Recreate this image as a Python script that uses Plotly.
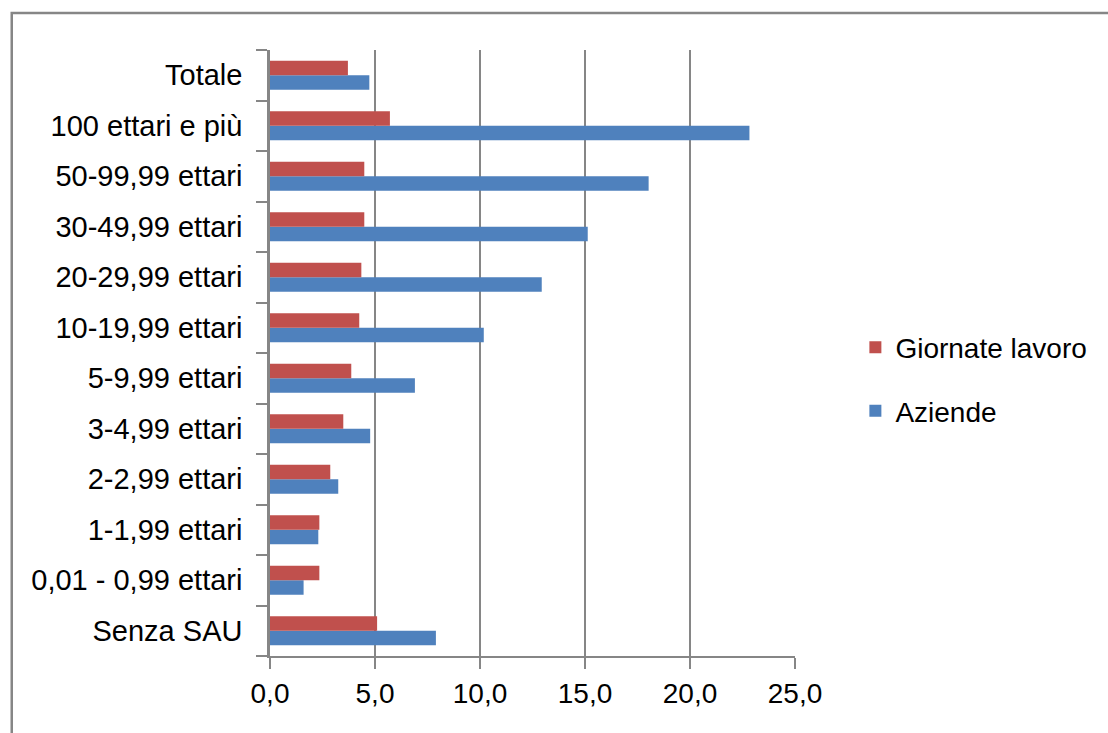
import plotly.graph_objects as go

# Size classes (bottom to top on the chart)
categorie = [
    "Senza SAU",
    "0,01 - 0,99 ettari",
    "1-1,99 ettari",
    "2-2,99 ettari",
    "3-4,99 ettari",
    "5-9,99 ettari",
    "10-19,99 ettari",
    "20-29,99 ettari",
    "30-49,99 ettari",
    "50-99,99 ettari",
    "100 ettari e più",
    "Totale",
]

aziende = [7.9, 1.6, 2.3, 3.25, 4.77, 6.9, 10.18, 12.94, 15.13, 18.03, 22.83, 4.73]
giornate_lavoro = [5.1, 2.35, 2.35, 2.87, 3.49, 3.87, 4.25, 4.35, 4.49, 4.49, 5.71, 3.71]

x_ticks = [0, 5, 10, 15, 20, 25]
x_tick_labels = ["0,0", "5,0", "10,0", "15,0", "20,0", "25,0"]

BLUE = "#4F81BD"
RED = "#C0504D"
GRID = "#868686"
FONT = "Liberation Sans, Arial, sans-serif"

fig = go.Figure()
fig.add_trace(go.Bar(
    y=categorie, x=aziende, name="Aziende", orientation="h",
    marker=dict(color=BLUE, line=dict(width=0)),
    legendgroup="b", legendrank=2,
))
fig.add_trace(go.Bar(
    y=categorie, x=giornate_lavoro, name="Giornate lavoro", orientation="h",
    marker=dict(color=RED, line=dict(width=0)),
    legendgroup="a", legendrank=1,
))

W, H = 1108, 733
L, R, T, B = 269.5, W - 795, 50, H - 656
pw, ph = W - L - R, H - T - B

# Outer chart frame, partly running off the page edges
fig.add_shape(
    type="rect", xref="paper", yref="paper",
    x0=(11 - L) / pw, x1=(W + 10 - L) / pw,
    y0=-(H + 10 - (H - B)) / ph, y1=1 + (T - 13) / ph,
    line=dict(color=GRID, width=2.5), fillcolor="rgba(0,0,0,0)", layer="below",
)

fig.update_layout(
    width=W, height=H,
    margin=dict(l=L, r=R, t=T, b=B, pad=0),
    paper_bgcolor="white", plot_bgcolor="white",
    barmode="group", bargap=0.43, bargroupgap=0,
    font=dict(family=FONT, size=29, color="black"),
    legend=dict(
        x=1.115, y=0.457, xanchor="left", yanchor="middle",
        traceorder="grouped", tracegroupgap=24,
        font=dict(size=28), bgcolor="rgba(0,0,0,0)",
    ),
    xaxis=dict(
        range=[0, 25], tickvals=x_ticks, ticktext=x_tick_labels,
        showgrid=True, gridcolor=GRID, gridwidth=1.5,
        showline=True, linecolor=GRID, linewidth=2,
        ticks="outside", ticklen=11, tickcolor=GRID, tickwidth=2,
        zeroline=False, tickfont=dict(size=28),
    ),
    yaxis=dict(
        categoryorder="array", categoryarray=categorie,
        showline=True, linecolor=GRID, linewidth=2.5,
        ticks="outside", ticklen=11, tickcolor=GRID, tickwidth=2,
        tickson="boundaries", showgrid=False, zeroline=False,
        ticklabelstandoff=19, tickfont=dict(size=29),
    ),
)

fig.write_html("out.html")
